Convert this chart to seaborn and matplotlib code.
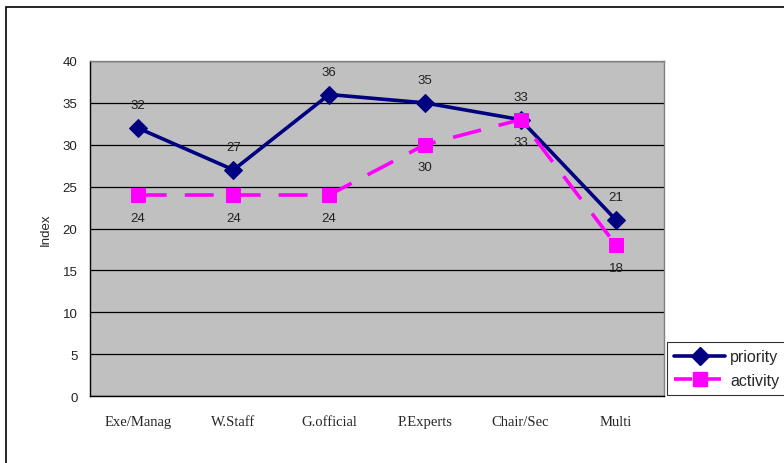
import matplotlib
matplotlib.use("Agg")
import matplotlib.pyplot as plt
import seaborn as sns
import pandas as pd
from matplotlib.patches import Rectangle
from matplotlib.lines import Line2D
from matplotlib.ticker import MultipleLocator, FixedLocator

# data
groups = ["Exe/Manag", "W.Staff", "G.official", "P.Experts", "Chair/Sec", "Multi"]
priority = [32, 27, 36, 35, 33, 21]
activity = [24, 24, 24, 30, 33, 18]

df = pd.DataFrame({"group": groups, "priority": priority, "activity": activity})

sns.set_style("white")
plt.rcParams["font.family"] = ["Liberation Sans", "DejaVu Sans"]

fig = plt.figure(figsize=(7.84, 4.64), dpi=100)
ax = fig.add_axes([90/784, 1-397/464, (664-90)/784, (397-62)/464])
ax.set_facecolor("#C0C0C0")

sns.lineplot(data=df, x="group", y="priority", ax=ax, sort=False, color="#000080",
             lw=2.6, marker="D", markersize=9, markeredgecolor="#000080", legend=False)
sns.lineplot(data=df, x="group", y="activity", ax=ax, sort=False, color="#FF00FF",
             lw=2.6, marker="s", markersize=10, markeredgecolor="#FF00FF", legend=False)
ax.lines[1].set_dashes([8, 5])

# data labels
for i, (p, a) in enumerate(zip(priority, activity)):
    ax.annotate(str(p), (i, p), xytext=(0, 12), textcoords="offset points",
                ha="center", va="bottom", fontsize=9.5, color="#222222")
    ax.annotate(str(a), (i, a), xytext=(0, -12), textcoords="offset points",
                ha="center", va="top", fontsize=9.5, color="#222222")

ax.set_xlim(-0.5, len(groups) - 0.5)
ax.set_ylim(0, 40)
ax.yaxis.set_major_locator(MultipleLocator(5))
ax.grid(axis="y", color="#000000", lw=0.9)
ax.set_axisbelow(True)

ax.set_xticks(range(len(groups)))
ax.set_xticklabels(groups, family="Liberation Serif", fontsize=10.5)
ax.tick_params(axis="x", which="major", length=0, pad=14)
ax.xaxis.set_minor_locator(FixedLocator([i + 0.5 for i in range(len(groups) - 1)]))
ax.tick_params(axis="x", which="minor", length=4, direction="in", color="black")
ax.tick_params(axis="y", length=3, direction="out", labelsize=9.5, labelcolor="#222222", pad=6)

ax.set_xlabel("")
ax.set_ylabel("Index", fontsize=9.5, labelpad=8)

for side in ["left", "bottom"]:
    ax.spines[side].set_color("black")
    ax.spines[side].set_linewidth(1.0)
for side in ["top", "right"]:
    ax.spines[side].set_color("#808080")
    ax.spines[side].set_linewidth(1.0)

handles = [
    Line2D([], [], color="#000080", lw=2.6, marker="D", markersize=9),
    Line2D([], [], color="#FF00FF", lw=2.6, marker="s", markersize=10, dashes=[5, 3]),
]
leg = fig.legend(handles, ["priority", "activity"], loc="upper left",
                 bbox_to_anchor=(667/784, 1-343/464),
                 fontsize=11.5, frameon=True, fancybox=False, edgecolor="black",
                 handlelength=3.2, borderpad=0.45, labelspacing=0.55, handletextpad=0.3,
                 borderaxespad=0)
leg.get_frame().set_linewidth(0.8)

# outer chart border
fig.patches.append(Rectangle((6/784, -0.1), 1.2, 1-8/464 + 0.1, transform=fig.transFigure,
                             fill=False, edgecolor="black", lw=1.2))

fig.savefig("out.png", dpi=100)
